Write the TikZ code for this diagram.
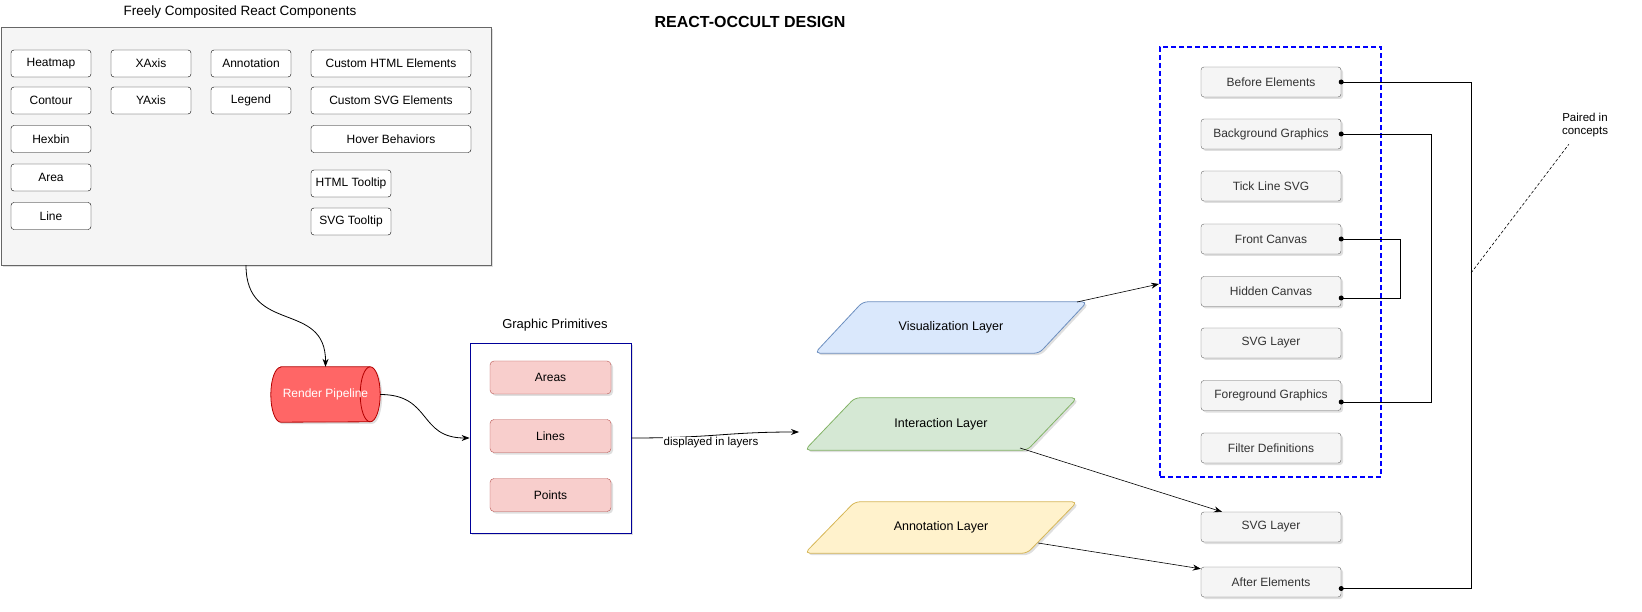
\documentclass[tikz,border=0pt]{standalone}
\usepackage{fontspec}
\setmainfont{Liberation Sans}
\usetikzlibrary{shadows,backgrounds,arrows.meta}
\definecolor{boxgray}{HTML}{666666}
\definecolor{boxfill}{HTML}{F5F5F5}
\definecolor{boxtext}{HTML}{333333}
\definecolor{primfill}{HTML}{F8CECC}
\definecolor{primstroke}{HTML}{B85450}
\definecolor{renderfill}{HTML}{FF6666}
\definecolor{renderstroke}{HTML}{B20000}
\definecolor{navy}{HTML}{000099}
\definecolor{visfill}{HTML}{DAE8FC}
\definecolor{visstroke}{HTML}{6C8EBF}
\definecolor{intfill}{HTML}{D5E8D4}
\definecolor{intstroke}{HTML}{82B366}
\definecolor{annfill}{HTML}{FFF2CC}
\definecolor{annstroke}{HTML}{D6B656}
\definecolor{dashblue}{HTML}{0000FF}
\begin{document}
\begin{tikzpicture}[x=1pt,y=-1pt,
  shad/.style={drop shadow={shadow xshift=2pt,shadow yshift=-2pt,opacity=0.25,fill=gray}},
  comp/.style={draw=black,fill=white,rounded corners=3pt,minimum width=80pt,minimum height=27pt,inner sep=0pt,font=\fontsize{12}{14}\selectfont},
  widecomp/.style={comp,minimum width=160pt},
  prim/.style={draw=primstroke,fill=primfill,rounded corners=4pt,minimum width=121pt,minimum height=33pt,inner sep=0pt,font=\fontsize{12}{14}\selectfont,shad},
  rbox/.style={draw=boxgray,fill=boxfill,text=boxtext,rounded corners=3pt,minimum width=140pt,minimum height=30pt,inner sep=0pt,font=\fontsize{12}{14}\selectfont,shad},
  layertext/.style={inner sep=0pt,minimum width=272pt,minimum height=51pt,font=\fontsize{12.5}{15}\selectfont},
  lbl/.style={inner sep=1pt,font=\fontsize{11.5}{13.5}\selectfont},
  arr/.style={draw=black,line width=0.8pt,-{Stealth[length=8pt,width=6pt]}},
  conn/.style={draw=black,line width=0.8pt},
]
\useasboundingbox (0,0) rectangle (1642,612);

% title
\node[font=\bfseries\fontsize{16}{19}\selectfont] (title) at (750,22) {REACT-OCCULT DESIGN};

% components box
\node[font=\fontsize{13.5}{16}\selectfont] (comptitle) at (240,12) {Freely Composited React Components};
\node[draw=boxgray,fill=boxfill,minimum width=490pt,minimum height=238pt,inner sep=0pt,shad] (comp) at (246,146) {};
\node[comp] (heatmap) at (51,63.5) {Heatmap};
\node[comp] (contour) at (51,100.5) {Contour};
\node[comp] (hexbin) at (51,139) {Hexbin};
\node[comp] (area) at (51,177.5) {Area};
\node[comp] (line) at (51,216) {Line};
\node[comp] (xaxis) at (151,63.5) {XAxis};
\node[comp] (yaxis) at (151,100.5) {YAxis};
\node[comp] (annotation) at (251,63.5) {Annotation};
\node[comp] (legend) at (251,100.5) {Legend};
\node[widecomp] (customhtml) at (391,63.5) {Custom HTML Elements};
\node[widecomp] (customsvg) at (391,100.5) {Custom SVG Elements};
\node[widecomp] (hover) at (391,139) {Hover Behaviors};
\node[comp] (htmltip) at (351,183.5) {HTML Tooltip};
\node[comp] (svgtip) at (351,221.5) {SVG Tooltip};

% render pipeline cylinder
\node[inner sep=0pt,minimum width=109pt,minimum height=55pt,text=white,font=\fontsize{12}{14}\selectfont] (render) at (325.5,394.5) {Render Pipeline};
\begin{pgfonlayer}{background}
\path[draw=renderstroke,fill=renderfill,line width=0.8pt,shad]
  ([xshift=10pt]render.north west) -- ([xshift=-10pt]render.north east)
  arc[start angle=90,end angle=-90,x radius=10pt,y radius=27.5pt]
  -- ([xshift=10pt]render.south west)
  arc[start angle=-90,end angle=-270,x radius=10pt,y radius=27.5pt] -- cycle;
\draw[renderstroke,line width=0.8pt] ([xshift=-10pt]render.north east)
  arc[start angle=90,end angle=270,x radius=10pt,y radius=27.5pt];
\end{pgfonlayer}

% graphic primitives
\node[font=\fontsize{13}{15}\selectfont] (gptitle) at (555,325) {Graphic Primitives};
\node[draw=navy,fill=white,line width=0.8pt,minimum width=161pt,minimum height=190pt,inner sep=0pt,shad] (gp) at (550.5,438) {};
\node[prim] (areas) at (550.5,377.5) {Areas};
\node[prim] (lines) at (550.5,436) {Lines};
\node[prim] (points) at (550.5,495) {Points};

% layers
\node[layertext] (vis) at (951,327.5) {Visualization Layer};
\node[layertext,minimum height=52pt] (inter) at (941,424) {Interaction Layer};
\node[layertext] (annot) at (941,527.5) {Annotation Layer};
\begin{pgfonlayer}{background}
\path[draw=visstroke,fill=visfill,line width=0.8pt,rounded corners=5pt,shad]
  ([xshift=48pt]vis.north west) -- (vis.north east) -- ([xshift=-48pt]vis.south east) -- (vis.south west) -- cycle;
\path[draw=intstroke,fill=intfill,line width=0.8pt,rounded corners=5pt,shad]
  ([xshift=50pt]inter.north west) -- (inter.north east) -- ([xshift=-50pt]inter.south east) -- (inter.south west) -- cycle;
\path[draw=annstroke,fill=annfill,line width=0.8pt,rounded corners=5pt,shad]
  ([xshift=50pt]annot.north west) -- (annot.north east) -- ([xshift=-50pt]annot.south east) -- (annot.south west) -- cycle;
\end{pgfonlayer}

% right column
\node[draw=dashblue,line width=2pt,dash pattern=on 5pt off 3pt,minimum width=221pt,minimum height=430pt,inner sep=0pt] (dbox) at (1270.5,262) {};
\node[rbox] (before) at (1271,82) {Before Elements};
\node[rbox] (background) at (1271,134) {Background Graphics};
\node[rbox] (tick) at (1271,186) {Tick Line SVG};
\node[rbox] (front) at (1271,239) {Front Canvas};
\node[rbox] (hidden) at (1271,291.5) {Hidden Canvas};
\node[rbox] (svglayer) at (1271,343) {SVG Layer};
\node[rbox] (foreground) at (1271,395.5) {Foreground Graphics};
\node[rbox] (filter) at (1271,448) {Filter Definitions};
\node[rbox] (svglayer2) at (1271,527) {SVG Layer};
\node[rbox] (after) at (1271,582) {After Elements};

% connectors
\draw[arr] (comp.south) .. controls (246,335) and (326,300) .. (render.north);
\draw[arr] (render.east) .. controls (432,394.5) and (418,438) .. (gp.west);
\coordinate (interin) at (799,432);
\draw[arr] (gp.east) .. controls (715,438) and (725,432) .. (interin);
\node[lbl,fill=white] (displabel) at (711,443) {displayed in layers};
\coordinate (visout) at (1077,302);
\coordinate (visin) at (1159,284);
\draw[arr,line width=0.6pt] (visout) -- (visin);
\coordinate (interout) at (1020,448);
\draw[arr,line width=0.6pt] (interout) -- ([xshift=-49pt]svglayer2.north);
\coordinate (annout) at (1038,543);
\draw[arr,line width=0.6pt] (annout) -- ([yshift=-2pt]after.north west);

\draw[conn] (before.east) -- ++(130,0) |- ([yshift=-6.5pt]after.east);
\draw[conn] (background.east) -- ++(90,0) |- ([yshift=-6.5pt]foreground.east);
\draw[conn] (front.east) -- ++(59,0) |- ([yshift=-6.5pt]hidden.east);
\foreach \n in {before,background,front}{\fill (\n.east) circle (2.5pt);}
\foreach \n in {after,foreground,hidden}{\fill ([yshift=-6.5pt]\n.east) circle (2.5pt);}

% paired in concepts
\node[lbl,align=center] (paired) at (1585,125) {Paired in\\concepts};
\coordinate (pairfoot) at (1471,273);
\draw[line width=0.6pt,dash pattern=on 3pt off 2pt] (pairfoot) -- ([xshift=8pt,yshift=-6pt]paired.south west);
\end{tikzpicture}
\end{document}
